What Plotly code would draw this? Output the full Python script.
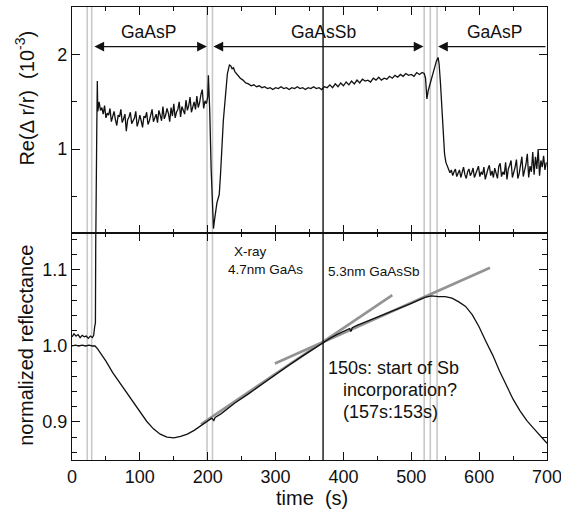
import plotly.graph_objects as go

# ---------------- data ----------------
# top panel: Re(delta r / r) in 1e-3
rise1_t = [33, 35, 36.5, 37.3]
rise1_v = [-0.2, 0.0, 1.2, 1.72]

gaasp1_t = list(range(38, 198, 2))
gaasp1_v = [1.40, 1.50, 1.41, 1.44, 1.37, 1.46, 1.33, 1.38, 1.36, 1.43,
            1.29, 1.35, 1.40, 1.31, 1.25, 1.36, 1.34, 1.42, 1.28, 1.32,
            1.37, 1.19, 1.31, 1.34, 1.39, 1.27, 1.30, 1.33, 1.40, 1.24,
            1.29, 1.36, 1.30, 1.23, 1.35, 1.33, 1.39, 1.26, 1.30, 1.35,
            1.42, 1.29, 1.33, 1.37, 1.28, 1.41, 1.36, 1.30, 1.45, 1.32,
            1.36, 1.43, 1.38, 1.29, 1.44, 1.35, 1.48, 1.33, 1.39, 1.42,
            1.50, 1.34, 1.45, 1.40, 1.37, 1.52, 1.41, 1.46, 1.55, 1.39,
            1.45, 1.50, 1.42, 1.56, 1.44, 1.49, 1.58, 1.63, 1.43, 1.51]

iface1_t = [198, 200, 201, 203, 205, 207, 208.5, 210, 212, 213.5, 215, 217,
            219, 221, 223, 226, 229, 232, 234, 236, 238]
iface1_v = [1.48, 1.55, 1.78, 1.40, 0.80, 0.30, 0.16, 0.25, 0.40, 0.43, 0.47,
            0.52, 0.75, 1.05, 1.30, 1.55, 1.80, 1.89, 1.88, 1.85, 1.86]

gaassb_t = list(range(240, 520, 4))
gaassb_v = [1.82, 1.78, 1.75, 1.73, 1.70, 1.69, 1.67, 1.68, 1.66, 1.67,
            1.65, 1.66, 1.64, 1.65, 1.63, 1.65, 1.64, 1.66, 1.64, 1.65,
            1.63, 1.65, 1.64, 1.66, 1.64, 1.65, 1.63, 1.65, 1.64, 1.66,
            1.64, 1.65, 1.63, 1.66, 1.65, 1.68, 1.65, 1.69, 1.66, 1.70,
            1.67, 1.71, 1.68, 1.72, 1.69, 1.73, 1.70, 1.74, 1.72, 1.73,
            1.71, 1.75, 1.73, 1.76, 1.73, 1.75, 1.74, 1.77, 1.75, 1.78,
            1.76, 1.79, 1.77, 1.80, 1.78, 1.79, 1.77, 1.81, 1.79, 1.81]

iface2_t = [519, 521, 523, 525, 528, 531, 534, 537, 539.5, 541, 543, 545,
            547, 549, 551, 553]
iface2_v = [1.80, 1.75, 1.53, 1.62, 1.70, 1.76, 1.85, 1.93, 1.97, 1.90, 1.70,
            1.45, 1.15, 0.95, 0.86, 0.82]

gaasp2_t = list(range(555, 701, 2))
gaasp2_v = [0.80, 0.75, 0.78, 0.72, 0.76, 0.79, 0.71, 0.74, 0.78, 0.70,
            0.77, 0.81, 0.73, 0.69, 0.76, 0.79, 0.72, 0.75, 0.80, 0.70,
            0.74, 0.78, 0.82, 0.71, 0.76, 0.73, 0.81, 0.68, 0.75, 0.79,
            0.83, 0.72, 0.77, 0.70, 0.80, 0.74, 0.69, 0.82, 0.85, 0.71,
            0.76, 0.73, 0.86, 0.68, 0.79, 0.83, 0.88, 0.70, 0.75, 0.81,
            0.89, 0.69, 0.74, 0.86, 0.92, 0.71, 0.78, 0.84, 0.95, 0.70,
            0.82, 0.76, 0.97, 0.73, 0.92, 0.79, 1.00, 0.72, 0.88, 0.81,
            0.93, 0.78, 0.86]

# bottom panel: normalized reflectance
refl_t = [0, 5, 10, 15, 20, 25, 30, 34, 38, 42,
          50, 60, 70, 80, 90, 100, 110, 120, 130, 140, 150, 160, 170, 180, 190, 200,
          206, 209, 211, 220,
          240, 260, 280, 300, 320, 340, 360,
          370, 380, 390, 400,
          409, 411, 413, 420,
          440, 460, 480, 500,
          510, 520, 530, 540, 550, 560, 570, 580, 590, 600,
          610, 620, 630, 640, 650, 660, 670, 680, 690, 700]
refl_v = [1.000, 1.001, 1.000, 1.001, 1.000, 1.001, 1.000, 1.000, 0.996, 0.991,
          0.980, 0.965, 0.952, 0.940, 0.926, 0.913, 0.901, 0.891, 0.884, 0.880,
          0.879, 0.881, 0.884, 0.889, 0.895, 0.901,
          0.905, 0.902, 0.906, 0.911,
          0.925, 0.937, 0.950, 0.962, 0.975, 0.987, 0.999,
          1.005, 1.010, 1.015, 1.019,
          1.023, 1.019, 1.024, 1.027,
          1.034, 1.042, 1.049, 1.056,
          1.060, 1.064, 1.066, 1.065, 1.065, 1.063, 1.058, 1.052, 1.041, 1.025,
          1.006, 0.988, 0.967, 0.948, 0.930, 0.915, 0.902, 0.892, 0.882, 0.872]

ras_low_t = [0, 3, 6, 9, 12, 15, 18, 21, 24, 27, 30, 32, 33.5, 34.5, 35.5]
ras_low_v = [1.012, 1.016, 1.013, 1.015, 1.011, 1.014, 1.012, 1.013, 1.010,
             1.013, 1.011, 1.014, 1.026, 1.030, 1.250]

fit_steep_t = [190, 472]
fit_steep_v = [0.897, 1.067]
fit_shallow_t = [299, 616]
fit_shallow_v = [0.977, 1.103]

grey_events = [22.5, 29, 199, 207, 519, 528, 538]
xray_time = [370]

regions = [  # label, start, end, label x
    ("GaAsP", 30.8, 198.8, 112),
    ("GaAsSb", 206.2, 518, 370),
    ("GaAsP", 539.5, 700, 623),
]

# ---------------- figure ----------------
FONT = "Liberation Sans, Arial, sans-serif"
BLACK = "#111111"

top_t = rise1_t + gaasp1_t + iface1_t + gaassb_t + iface2_t + gaasp2_t
top_v = rise1_v + gaasp1_v + iface1_v + gaassb_v + iface2_v + gaasp2_v

fig = go.Figure()

fig.add_trace(go.Scatter(x=fit_steep_t, y=fit_steep_v, mode="lines",
                         line=dict(color="#939393", width=2.6),
                         xaxis="x2", yaxis="y2", showlegend=False))
fig.add_trace(go.Scatter(x=fit_shallow_t, y=fit_shallow_v, mode="lines",
                         line=dict(color="#939393", width=2.6),
                         xaxis="x2", yaxis="y2", showlegend=False))
fig.add_trace(go.Scatter(x=refl_t, y=refl_v, mode="lines",
                         line=dict(color=BLACK, width=1.3),
                         xaxis="x2", yaxis="y2", showlegend=False))
fig.add_trace(go.Scatter(x=ras_low_t, y=ras_low_v, mode="lines",
                         line=dict(color=BLACK, width=1.3),
                         xaxis="x2", yaxis="y2", showlegend=False))
fig.add_trace(go.Scatter(x=top_t, y=top_v, mode="lines",
                         line=dict(color=BLACK, width=1.3),
                         xaxis="x", yaxis="y", showlegend=False))

shapes = []
for t in grey_events:
    shapes.append(dict(type="line", xref="x2", yref="paper", x0=t, x1=t,
                       y0=0, y1=1, line=dict(color="#c8c8c8", width=1.6),
                       layer="below"))
for t in xray_time:
    shapes.append(dict(type="line", xref="x2", yref="paper", x0=t, x1=t,
                       y0=0, y1=1, line=dict(color=BLACK, width=1.4)))

ann = []
ARROW_Y = 2.084
for label, t0, t1, tx in regions:
    if t1 >= 700:
        ann.append(dict(x=t0, y=ARROW_Y, ax=t1, ay=ARROW_Y, xref="x", yref="y",
                        axref="x", ayref="y", text="", showarrow=True,
                        arrowhead=2, arrowsize=1.5, arrowwidth=1.3,
                        arrowcolor=BLACK, standoff=0))
    else:
        ann.append(dict(x=t1, y=ARROW_Y, ax=t0, ay=ARROW_Y, xref="x", yref="y",
                        axref="x", ayref="y", text="", showarrow=True,
                        arrowhead=2, startarrowhead=2, arrowside="end+start",
                        arrowsize=1.5, startarrowsize=1.5, arrowwidth=1.3,
                        arrowcolor=BLACK, standoff=0, startstandoff=0))
    ann.append(dict(x=tx, y=2.24, xref="x", yref="y", text=label,
                    showarrow=False, font=dict(size=17.5, color=BLACK, family=FONT)))

small = dict(size=13.5, color=BLACK, family=FONT)
big = dict(size=18, color=BLACK, family=FONT)
ann += [
    dict(x=236, y=1.1245, xref="x2", yref="y2", text="X-ray", showarrow=False,
         xanchor="left", font=small),
    dict(x=227, y=1.1005, xref="x2", yref="y2", text="4.7nm GaAs", showarrow=False,
         xanchor="left", font=small),
    dict(x=374, y=1.098, xref="x2", yref="y2", text="5.3nm GaAsSb", showarrow=False,
         xanchor="left", font=small),
    dict(x=374, y=0.9709, xref="x2", yref="y2", text="150s: start of Sb",
         showarrow=False, xanchor="left", font=big),
    dict(x=396, y=0.9417, xref="x2", yref="y2", text="incorporation?",
         showarrow=False, xanchor="left", font=big),
    dict(x=396, y=0.9126, xref="x2", yref="y2", text="(157s:153s)",
         showarrow=False, xanchor="left", font=big),
    # axis titles
    dict(x=-0.099, y=0.80, xref="paper", yref="paper",
         text="Re(\u0394 r/r)  (10<sup>-3</sup>)", textangle=-90, showarrow=False,
         xanchor="center", yanchor="middle", font=dict(size=20, color=BLACK, family=FONT)),
    dict(x=-0.097, y=0.254, xref="paper", yref="paper",
         text="normalized reflectance", textangle=-90, showarrow=False,
         xanchor="center", yanchor="middle", font=dict(size=20, color=BLACK, family=FONT)),
    dict(x=0.505, y=-0.084, xref="paper", yref="paper", text="time  (s)",
         showarrow=False, xanchor="center", yanchor="middle",
         font=dict(size=20, color=BLACK, family=FONT)),
]

axis_common = dict(showline=True, linecolor=BLACK, linewidth=1.3, mirror="ticks",
                   ticks="inside", ticklen=8, tickwidth=1.2, tickcolor=BLACK,
                   showgrid=False, zeroline=False, ticklabeloverflow="allow",
                   automargin=False,
                   tickfont=dict(size=18, color=BLACK, family=FONT))

SPLIT = 0.5017
fig.update_layout(
    width=561, height=514,
    margin=dict(l=72, r=14, t=7, b=54, autoexpand=False),
    paper_bgcolor="white", plot_bgcolor="white",
    showlegend=False,
    xaxis=dict(domain=[0, 1], anchor="y", range=[0, 700], dtick=100,
               showticklabels=False,
               minor=dict(dtick=50, ticks="inside", ticklen=4, tickwidth=1.2,
                          tickcolor=BLACK), **axis_common),
    yaxis=dict(domain=[SPLIT, 1], anchor="x", range=[0.116, 2.503], dtick=1,
               minor=dict(dtick=0.5, ticks="inside", ticklen=4.5, tickwidth=1.2,
                          tickcolor=BLACK), **axis_common),
    xaxis2=dict(domain=[0, 1], anchor="y2", range=[0, 700], dtick=100,
                minor=dict(dtick=50, ticks="inside", ticklen=4, tickwidth=1.2,
                           tickcolor=BLACK), **axis_common),
    yaxis2=dict(domain=[0, SPLIT], anchor="x2", range=[0.85, 1.149], dtick=0.1,
                tick0=0.9, tickformat=".1f",
                minor=dict(dtick=0.02, ticks="inside", ticklen=4.5, tickwidth=1.2,
                           tickcolor=BLACK), **axis_common),
    shapes=shapes,
    annotations=ann,
)

fig.write_html("out.html", config={"displayModeBar": False},
               post_script="document.body.style.margin='0';document.body.style.overflow='hidden';")
